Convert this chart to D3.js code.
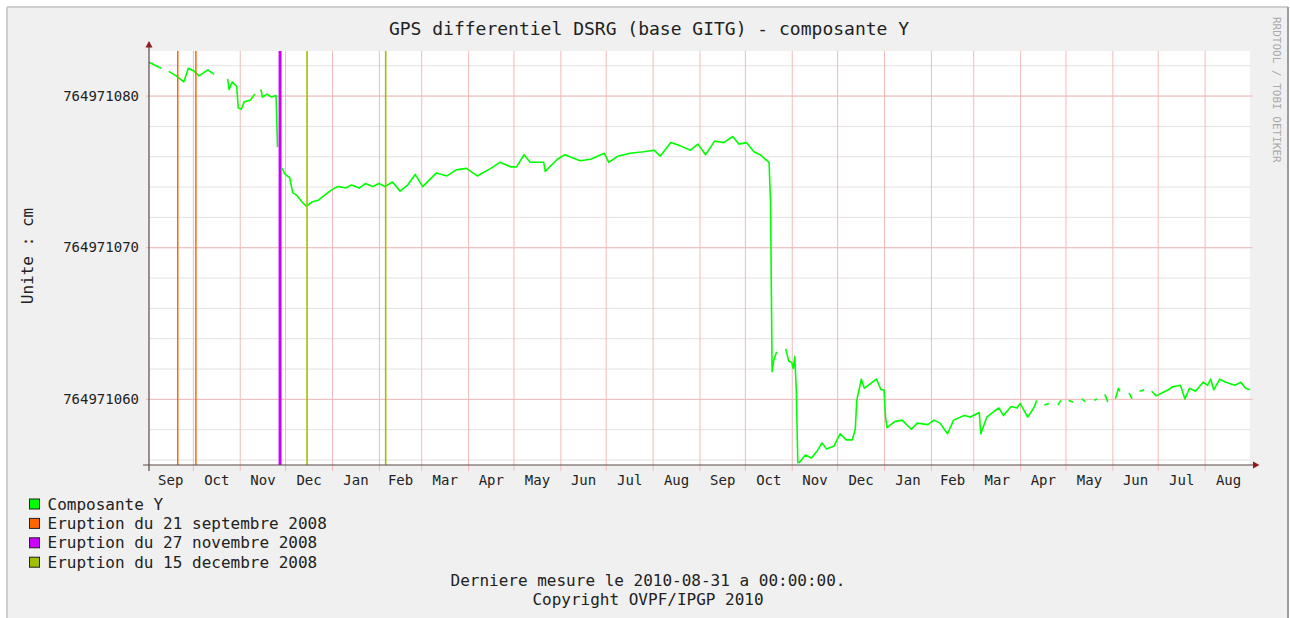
<!DOCTYPE html>
<html>
<head>
<meta charset="utf-8">
<script src="https://cdn.jsdelivr.net/npm/d3@7"></script>
<style>
  body { margin: 0; background: #fff; }
  svg { display: block; font-family: "DejaVu Sans Mono", monospace; }
</style>
</head>
<body>
<svg width="1290" height="618"></svg>
<script>
let compDates = [
  "2008-09-02","2008-09-10","2008-09-12","2008-09-15","2008-09-20","2008-09-25","2008-09-28",
  "2008-10-02","2008-10-05","2008-10-11","2008-10-15","2008-10-18","2008-10-24","2008-10-25",
  "2008-10-27","2008-10-30","2008-10-31","2008-11-02","2008-11-04","2008-11-08","2008-11-11",
  "2008-11-13","2008-11-15","2008-11-16","2008-11-19","2008-11-22","2008-11-25","2008-11-26",
  "2008-11-27","2008-11-29","2008-12-01","2008-12-04","2008-12-06","2008-12-09","2008-12-12",
  "2008-12-14","2008-12-15","2008-12-19","2008-12-23","2008-12-28","2009-01-01","2009-01-05",
  "2009-01-10","2009-01-14","2009-01-19","2009-01-23","2009-01-28","2009-02-01","2009-02-05",
  "2009-02-10","2009-02-15","2009-02-20","2009-02-25","2009-03-02","2009-03-11","2009-03-18",
  "2009-03-24","2009-03-31","2009-04-07","2009-04-16","2009-04-22","2009-04-29","2009-05-03",
  "2009-05-08","2009-05-12","2009-05-21","2009-05-22","2009-05-30","2009-06-04","2009-06-09",
  "2009-06-14","2009-06-21","2009-06-30","2009-07-03","2009-07-09","2009-07-17","2009-07-26",
  "2009-08-02","2009-08-06","2009-08-13","2009-08-19","2009-08-26","2009-08-31","2009-09-05",
  "2009-09-11","2009-09-17","2009-09-23","2009-09-27","2009-10-02","2009-10-07","2009-10-11",
  "2009-10-17","2009-10-18","2009-10-19","2009-10-20","2009-10-22","2009-10-24","2009-10-28",
  "2009-10-30","2009-11-01","2009-11-02","2009-11-03","2009-11-04","2009-11-05","2009-11-06",
  "2009-11-10","2009-11-14","2009-11-18","2009-11-21","2009-11-24","2009-11-29","2009-12-03",
  "2009-12-07","2009-12-11","2009-12-13","2009-12-14","2009-12-17","2009-12-19","2009-12-23",
  "2009-12-27","2009-12-30","2010-01-01","2010-01-02","2010-01-03","2010-01-08","2010-01-13",
  "2010-01-19","2010-01-23","2010-01-30","2010-02-03","2010-02-07","2010-02-12","2010-02-16",
  "2010-02-23","2010-02-27","2010-03-05","2010-03-06","2010-03-10","2010-03-15","2010-03-18",
  "2010-03-21","2010-03-26","2010-03-30","2010-04-01","2010-04-06","2010-04-10","2010-04-12",
  "2010-04-14","2010-04-17","2010-04-20","2010-04-23","2010-04-26","2010-04-28","2010-05-01",
  "2010-05-03","2010-05-06","2010-05-09","2010-05-12","2010-05-14","2010-05-17","2010-05-20",
  "2010-05-22","2010-05-25","2010-05-27","2010-05-29","2010-06-01","2010-06-03","2010-06-05",
  "2010-06-06","2010-06-09","2010-06-12","2010-06-14","2010-06-17","2010-06-19","2010-06-22",
  "2010-06-25","2010-06-27","2010-06-30","2010-07-04","2010-07-08","2010-07-11","2010-07-16",
  "2010-07-19","2010-07-22","2010-07-26","2010-07-31","2010-08-03","2010-08-05","2010-08-07",
  "2010-08-11","2010-08-15","2010-08-21","2010-08-25","2010-08-28","2010-08-31"
]
let compValues = [
  764971082.2, 764971081.8, null, 764971081.6, 764971081.3, 764971080.9, 764971081.8,
  764971081.6, 764971081.3, 764971081.7, 764971081.4, null, 764971081.1, 764971080.4,
  764971080.9, 764971080.6, 764971079.2, 764971079.1, 764971079.6, 764971079.7, 764971080.1,
  null, 764971080.4, 764971079.9, 764971080.1, 764971079.9, 764971080.0, 764971076.6,
  null, 764971075.2, 764971074.8, 764971074.6, 764971073.6, 764971073.4, 764971073.0,
  764971072.8, 764971072.7, 764971073.0, 764971073.1, 764971073.5, 764971073.8, 764971074.0,
  764971073.9, 764971074.1, 764971073.9, 764971074.2, 764971074.0, 764971074.2, 764971074.0,
  764971074.3, 764971073.7, 764971074.1, 764971074.8, 764971074.0, 764971074.9, 764971074.7,
  764971075.1, 764971075.2, 764971074.7, 764971075.2, 764971075.6, 764971075.3, 764971075.3,
  764971076.1, 764971075.6, 764971075.6, 764971075.0, 764971075.8, 764971076.1, 764971075.9,
  764971075.7, 764971075.8, 764971076.2, 764971075.6, 764971076.0, 764971076.2, 764971076.3,
  764971076.4, 764971076.0, 764971076.9, 764971076.7, 764971076.4, 764971076.8, 764971076.1,
  764971077.0, 764971076.9, 764971077.3, 764971076.8, 764971076.9, 764971076.3, 764971076.1,
  764971075.6, 764971072.9, 764971061.8, 764971062.5, 764971063.1, null, 764971063.3,
  764971062.5, 764971062.4, 764971062.0, 764971062.8, 764971060.6, 764971055.8, 764971055.8,
  764971056.3, 764971056.1, 764971056.6, 764971057.1, 764971056.7, 764971056.9, 764971057.7,
  764971057.3, 764971057.3, 764971058.0, 764971059.9, 764971061.3, 764971060.7, 764971061.0,
  764971061.3, 764971060.6, 764971060.6, 764971058.8, 764971058.1, 764971058.5, 764971058.6,
  764971058.0, 764971058.4, 764971058.3, 764971058.6, 764971058.4, 764971057.7, 764971058.6,
  764971058.9, 764971058.8, 764971059.1, 764971057.7, 764971058.8, 764971059.2, 764971059.4,
  764971058.9, 764971059.5, 764971059.4, 764971059.7, 764971058.8, 764971059.4, 764971059.9,
  null, 764971059.6, 764971059.7, null, 764971059.6, 764971059.9, null,
  764971059.9, 764971059.8, null, 764971060.0, 764971059.8, null, 764971059.9,
  764971060.0, null, 764971060.3, 764971059.8, null, 764971060.0, 764971060.7,
  764971060.5, null, 764971060.4, 764971060.0, null, 764971060.5, 764971060.6,
  null, 764971060.5, 764971060.2, 764971060.4, 764971060.6, 764971060.8, 764971060.9,
  764971060.0, 764971060.7, 764971060.5, 764971061.1, 764971060.9, 764971061.3, 764971060.6,
  764971061.3, 764971061.1, 764971060.9, 764971061.1, 764971060.7, 764971060.6
]

// eruption markers (VRULE), group = legend entry
let eventDates = ["2008-09-21", "2008-10-03", "2008-11-27 16", "2008-12-15 12", "2009-02-05 12"]
let eventGroup = [1, 1, 2, 3, 3]

let legendLabels = [
  "Composante Y",
  "Eruption du 21 septembre 2008",
  "Eruption du 27 novembre 2008",
  "Eruption du 15 decembre 2008"
]
let yTickValues = [764971060, 764971070, 764971080]
let startDate = "2008-09-02"
let endDate = "2010-08-31"

let colors = ["#00ff00", "#ff6600", "#cc00ff", "#a0c000"]
let ruleWidths = [1.5, 1.5, 3, 1.6]

let parseDay = d3.timeParse("%Y-%m-%d")
let parseHour = d3.timeParse("%Y-%m-%d %H")
let toDate = s => parseDay(s) || parseHour(s)

let svg = d3.select("svg")
let plotL = 149, plotR = 1250, plotT = 51, plotB = 465

let xScale = d3.scaleTime()
               .domain([toDate(startDate), toDate(endDate)])
               .range([plotL, plotR])
let yScale = d3.scaleLinear()
               .domain([764971055.64, 764971082.94])
               .range([plotB, plotT])

// frame
svg.append("rect").attr("x", 7).attr("y", 7).attr("width", 1281).attr("height", 620).attr("fill", "#f0f0f0")
svg.append("line").attr("x1", 7).attr("y1", 7).attr("x2", 1288).attr("y2", 7).attr("stroke", "#cfcfcf").attr("stroke-width", 2)
svg.append("line").attr("x1", 7).attr("y1", 7).attr("x2", 7).attr("y2", 618).attr("stroke", "#cfcfcf").attr("stroke-width", 2)
svg.append("line").attr("x1", 1288).attr("y1", 7).attr("x2", 1288).attr("y2", 618).attr("stroke", "#9c9c9c").attr("stroke-width", 2)

svg.append("rect")
   .attr("x", plotL).attr("y", plotT)
   .attr("width", plotR - plotL).attr("height", plotB - plotT)
   .attr("fill", "#ffffff")

// minor horizontal grid, every 2 cm
let minorTicks = d3.range(764971056, 764971083, 2)
svg.append("g")
   .attr("transform", "translate(" + plotL + ",0)")
   .call(d3.axisLeft(yScale).tickValues(minorTicks).tickSize(-(plotR - plotL + 1)).tickFormat(""))
   .call(g => g.select(".domain").remove())
   .selectAll("line").attr("stroke", "#e2e2e2")

// major grid
svg.append("g")
   .attr("transform", "translate(146,0)")
   .call(d3.axisLeft(yScale).tickValues(yTickValues).tickSize(-(1253 - 146)).tickFormat(""))
   .call(g => g.select(".domain").remove())
   .selectAll("line").attr("stroke", "#f3baba")

let monthStarts = d3.timeMonth.range(toDate(startDate), toDate(endDate))
svg.append("g")
   .attr("transform", "translate(0,471)")
   .call(d3.axisBottom(xScale).tickValues(monthStarts).tickSize(-(471 - plotT)).tickFormat(""))
   .call(g => g.select(".domain").remove())
   .selectAll("line").attr("stroke", "#f3baba")

// data line
let points = compDates.map((d, i) => ({ date: toDate(d), v: compValues[i] }))
let line = d3.line()
             .defined(d => d.v != null)
             .x(d => xScale(d.date))
             .y(d => yScale(d.v))
svg.append("path")
   .datum(points)
   .attr("d", line)
   .attr("fill", "none")
   .attr("stroke", colors[0])
   .attr("stroke-width", 1.6)
   .attr("stroke-linejoin", "round")

// eruptions
svg.selectAll(".rule")
   .data(eventDates)
   .enter()
   .append("line")
   .attr("class", "rule")
   .attr("x1", d => xScale(toDate(d)))
   .attr("x2", d => xScale(toDate(d)))
   .attr("y1", plotT)
   .attr("y2", plotB)
   .attr("stroke", (d, i) => colors[eventGroup[i]])
   .attr("stroke-width", (d, i) => ruleWidths[eventGroup[i]])

// axes
let axisColor = "#5c4646", arrowColor = "#8b1c1c"
svg.append("line").attr("x1", plotL).attr("y1", 471).attr("x2", plotL).attr("y2", 46).attr("stroke", axisColor).attr("stroke-width", 1.2)
svg.append("line").attr("x1", 143).attr("y1", plotB).attr("x2", 1254).attr("y2", plotB).attr("stroke", axisColor).attr("stroke-width", 1.2)
svg.append("path").attr("d", "M145.5,47.5 L149,41 L152.5,47.5 Z").attr("fill", arrowColor)
svg.append("path").attr("d", "M1253,461.5 L1259.5,465 L1253,468.5 Z").attr("fill", arrowColor)

// month labels, centred in each month
let monthMids = d3.timeMonth.range(d3.timeMonth.floor(toDate(startDate)), toDate(endDate))
                  .map(m => new Date((+m + +d3.timeMonth.offset(m, 1)) / 2))
svg.append("g")
   .attr("transform", "translate(0," + plotB + ")")
   .call(d3.axisBottom(xScale).tickValues(monthMids).tickSize(0).tickPadding(10).tickFormat(d3.timeFormat("%b")))
   .call(g => g.select(".domain").remove())
   .call(g => g.selectAll("text").attr("font-family", "DejaVu Sans Mono").attr("font-size", 14).attr("fill", "#222"))

svg.append("g")
   .attr("transform", "translate(" + plotL + ",0)")
   .call(d3.axisLeft(yScale).tickValues(yTickValues).tickSize(0).tickPadding(10).tickFormat(d3.format("d")))
   .call(g => g.select(".domain").remove())
   .call(g => g.selectAll("text").attr("font-family", "DejaVu Sans Mono").attr("font-size", 14).attr("fill", "#222"))

// texts
svg.append("text")
   .attr("x", 649).attr("y", 35)
   .attr("text-anchor", "middle")
   .style("font-size", "18px").attr("fill", "#222")
   .text("GPS differentiel DSRG (base GITG) - composante Y")

svg.append("text")
   .attr("transform", "translate(33,256) rotate(-90)")
   .attr("text-anchor", "middle")
   .style("font-size", "16px").attr("fill", "#222")
   .text("Unite : cm")

svg.append("text")
   .attr("transform", "translate(1273,17) rotate(90)")
   .style("font-size", "11px").attr("fill", "#aaaaaa")
   .text("RRDTOOL / TOBI OETIKER")

// legend
let legend = svg.selectAll(".legend")
                .data(legendLabels)
                .enter()
                .append("g")
                .attr("class", "legend")
                .attr("transform", (d, i) => "translate(0," + (499 + i * 19.4) + ")")
legend.append("rect")
      .attr("x", 29.5).attr("y", 0)
      .attr("width", 10).attr("height", 10)
      .attr("fill", (d, i) => colors[i])
      .attr("stroke", "#222")
legend.append("text")
      .attr("x", 47.5).attr("y", 10.5)
      .style("font-size", "16px").attr("fill", "#222")
      .text(d => d)

svg.append("text")
   .attr("x", 648).attr("y", 586)
   .attr("text-anchor", "middle")
   .style("font-size", "16px").attr("fill", "#222")
   .text("Derniere mesure le 2010-08-31 a 00:00:00.")
svg.append("text")
   .attr("x", 648).attr("y", 605)
   .attr("text-anchor", "middle")
   .style("font-size", "16px").attr("fill", "#222")
   .text("Copyright OVPF/IPGP 2010")
</script>
</body>
</html>
